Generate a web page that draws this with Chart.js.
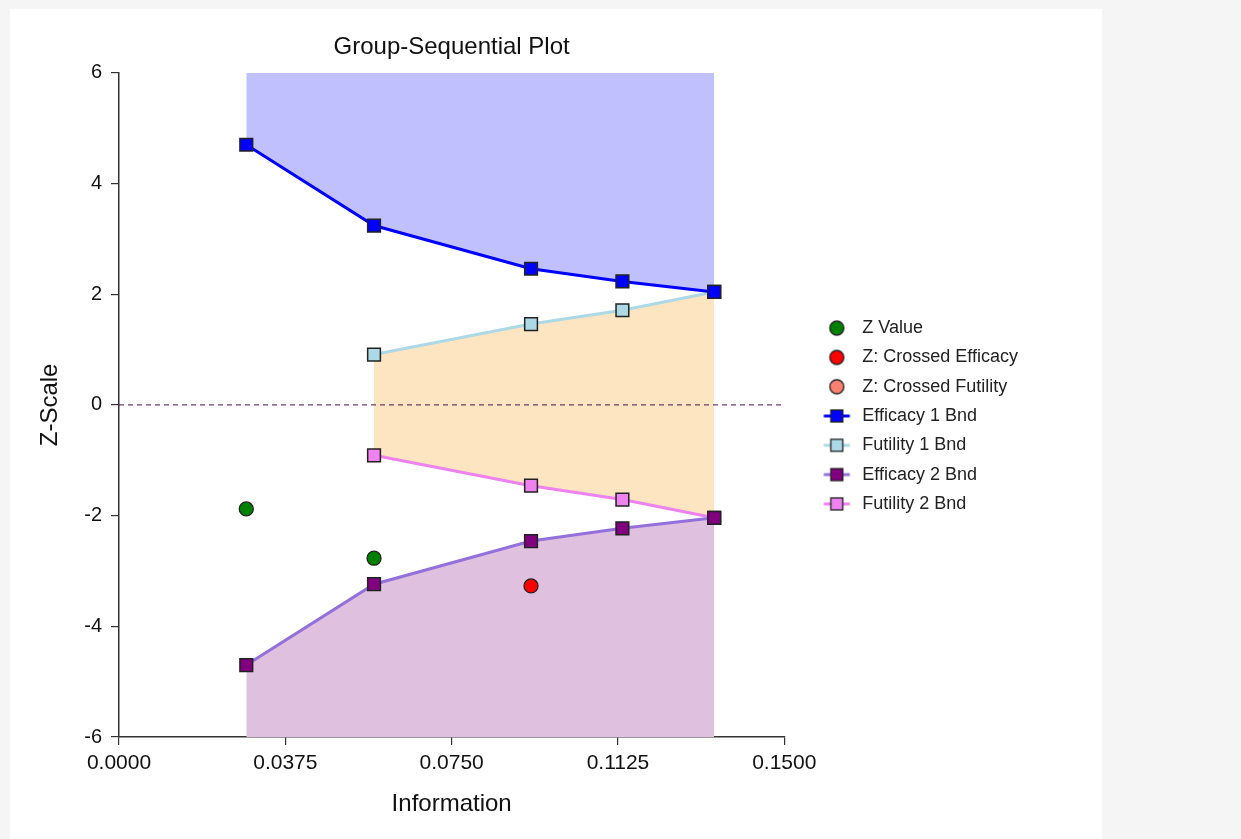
<!DOCTYPE html>
<html>
<head>
<meta charset="utf-8">
<title>Group-Sequential Plot</title>
<script src="https://cdn.jsdelivr.net/npm/chart.js@4.4.1/dist/chart.umd.min.js"></script>
<style>
  html, body { margin: 0; padding: 0; background: #f5f5f5; }
  #panel { position: absolute; left: 10px; top: 9px; width: 1092px; height: 830px; background: #fff; }
  #gsChart { display: block; }
</style>
</head>
<body>
<div id="panel">
  <canvas id="gsChart" width="1092" height="830"></canvas>
</div>
<script>
// datos
const information = [0.0287, 0.0575, 0.0929, 0.1135, 0.1342];
const efficacy1 = [4.70, 3.24, 2.46, 2.23, 2.04];
const futility1 = [null, 0.91, 1.46, 1.71, 2.04];
const efficacy2 = [-4.70, -3.24, -2.46, -2.23, -2.04];
const futility2 = [null, -0.91, -1.46, -1.71, -2.04];
const zValue = [-1.88, -2.77, null, null, null];
const zCrossedEfficacy = [null, null, -3.27, null, null];
const zCrossedFutility = [null, null, null, null, null];
const xTicks = [0, 0.0375, 0.075, 0.1125, 0.15];
const yTicks = [-6, -4, -2, 0, 2, 4, 6];

const FONT = '"Liberation Sans", Arial, sans-serif';
const ctx = document.getElementById('gsChart').getContext('2d');

function pts(values) {
  return information.map((x, i) => ({ x: x, y: values[i] }));
}

// iconos de la leyenda: el símbolo va a la derecha de una imagen ancha,
// así queda un hueco entre el área del gráfico y la leyenda
const ICON_W = 60, ICON_H = 18, SYM_X = 42.4;
function legendIcon(kind, fill, line) {
  const c = document.createElement('canvas');
  c.width = ICON_W;
  c.height = ICON_H;
  const g = c.getContext('2d');
  const cy = ICON_H / 2;
  if (kind === 'circle') {
    g.beginPath();
    g.arc(SYM_X, cy, 7, 0, Math.PI * 2);
    g.fillStyle = fill;
    g.fill();
    g.lineWidth = 1.3;
    g.strokeStyle = '#222';
    g.stroke();
  } else {
    g.strokeStyle = line;
    g.lineWidth = 3;
    g.beginPath();
    g.moveTo(SYM_X - 13, cy);
    g.lineTo(SYM_X + 13, cy);
    g.stroke();
    g.fillStyle = fill;
    g.fillRect(SYM_X - 6, cy - 6, 12, 12);
    g.strokeStyle = '#222';
    g.lineWidth = 1.3;
    g.strokeRect(SYM_X - 6, cy - 6, 12, 12);
  }
  return c;
}

const icons = [
  legendIcon('circle', '#008000'),
  legendIcon('circle', '#ff0000'),
  legendIcon('circle', '#fa8072'),
  legendIcon('rect', '#0000ff', '#0000ff'),
  legendIcon('rect', '#add8e6', '#add8e6'),
  legendIcon('rect', '#800080', '#9370db'),
  legendIcon('rect', '#ee82ee', '#ee82ee')
];

function zSet(label, values, color) {
  return {
    label: label,
    data: pts(values),
    showLine: false,
    pointStyle: 'circle',
    pointRadius: 7,
    pointHoverRadius: 7,
    pointBackgroundColor: color,
    pointBorderColor: '#222',
    pointBorderWidth: 1.3,
    backgroundColor: color,
    borderColor: '#222'
  };
}

function bndSet(label, values, lineColor, markColor, fill, fillColor) {
  return {
    label: label,
    data: pts(values),
    borderColor: lineColor,
    borderWidth: 3,
    backgroundColor: fillColor || 'transparent',
    fill: fill,
    pointStyle: 'rect',
    pointRadius: 9,
    pointHoverRadius: 9,
    pointBackgroundColor: markColor,
    pointBorderColor: '#222',
    pointBorderWidth: 1.5,
    tension: 0
  };
}

const gsChart = new Chart(ctx, {
  type: 'line',
  data: {
    datasets: [
      zSet('Z Value', zValue, '#008000'),
      zSet('Z: Crossed Efficacy', zCrossedEfficacy, '#ff0000'),
      zSet('Z: Crossed Futility', zCrossedFutility, '#fa8072'),
      bndSet('Efficacy 1 Bnd', efficacy1, '#0000ff', '#0000ff', 'end', '#c0c0ff'),
      bndSet('Futility 1 Bnd', futility1, '#add8e6', '#add8e6', 6, '#fde5c1'),
      bndSet('Efficacy 2 Bnd', efficacy2, '#9370db', '#800080', 'start', '#dfc0df'),
      bndSet('Futility 2 Bnd', futility2, '#ee82ee', '#ee82ee', false),
      {
        label: 'zero',
        data: [{ x: xTicks[0], y: 0 }, { x: xTicks[xTicks.length - 1], y: 0 }],
        borderColor: '#4a124a',
        borderWidth: 1,
        borderDash: [5, 4],
        pointRadius: 0,
        fill: false
      }
    ]
  },
  options: {
    responsive: false,
    animation: false,
    layout: { padding: { left: 0, right: 74, top: 0, bottom: 16 } },
    plugins: {
      filler: { drawTime: 'beforeDatasetsDraw' },
      tooltip: { enabled: false },
      title: {
        display: true,
        text: 'Group-Sequential Plot',
        fullSize: false,
        color: '#111',
        font: { family: FONT, size: 24, weight: 'normal' },
        padding: { top: 24, bottom: 11 }
      },
      legend: {
        position: 'right',
        align: 'center',
        labels: {
          usePointStyle: true,
          pointStyleWidth: 57.7,
          padding: 11.3,
          color: '#222',
          font: { family: FONT, size: 18 },
          filter: item => item.datasetIndex < 7,
          generateLabels: chart => {
            const items = Chart.defaults.plugins.legend.labels.generateLabels(chart);
            items.forEach(item => { item.pointStyle = icons[item.datasetIndex]; });
            return items;
          }
        }
      }
    },
    scales: {
      x: {
        type: 'linear',
        min: 0,
        max: 0.15,
        afterBuildTicks: s => { s.ticks = xTicks.map(v => ({ value: v })); },
        afterFit: s => { s.height = 86; },
        grid: { drawOnChartArea: false, drawTicks: true, tickLength: 8, color: '#333', lineWidth: 1.2 },
        border: { display: true, color: '#333', width: 1.5 },
        ticks: {
          padding: 6,
          color: '#111',
          font: { family: FONT, size: 21 },
          callback: v => v.toFixed(4)
        },
        title: {
          display: true,
          text: 'Information',
          color: '#111',
          font: { family: FONT, size: 24 },
          padding: { top: 12, bottom: 4.6 }
        }
      },
      y: {
        type: 'linear',
        min: -6,
        max: 6,
        afterBuildTicks: s => { s.ticks = yTicks.map(v => ({ value: v })); },
        afterFit: s => { s.width = 109; },
        grid: { drawOnChartArea: false, drawTicks: true, tickLength: 8, color: '#333', lineWidth: 1.2 },
        border: { display: true, color: '#333', width: 1.5 },
        ticks: {
          padding: 9,
          color: '#111',
          font: { family: FONT, size: 20 }
        },
        title: {
          display: true,
          text: 'Z-Scale',
          color: '#111',
          font: { family: FONT, size: 24 },
          padding: { top: 25.6, bottom: 20 }
        }
      }
    }
  }
});
</script>
</body>
</html>
